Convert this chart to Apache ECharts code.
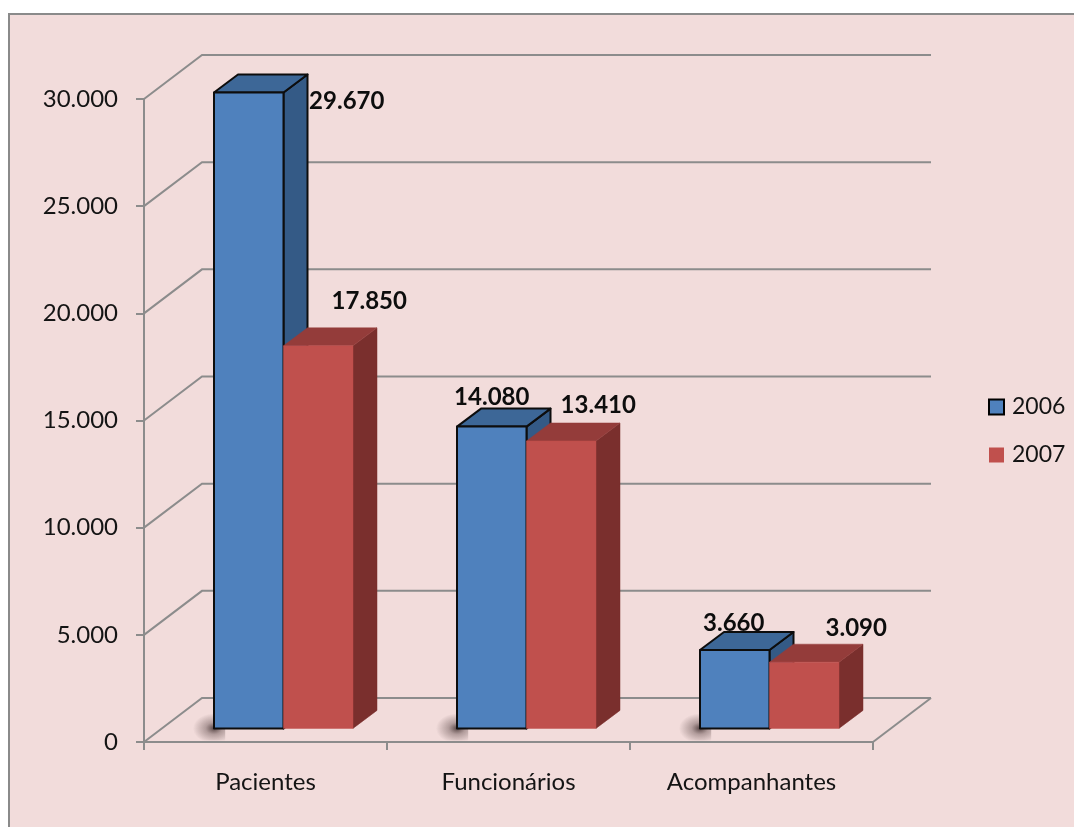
<!DOCTYPE html>
<html>
<head>
<meta charset="utf-8">
<script src="https://cdn.jsdelivr.net/npm/echarts@6/dist/echarts.min.js"></script>
<style>
  html, body { margin: 0; padding: 0; background: #ffffff; }
  #frame {
    position: absolute; left: 8px; top: 13px; right: 0; bottom: 0;
    background: #f2dcdb;
    border-top: 2px solid #8a8a8a; border-left: 2px solid #8a8a8a;
  }
  #chart { position: absolute; left: 0; top: 0; width: 1074px; height: 827px; }
</style>
</head>
<body>
<div id="frame"></div>
<div id="chart"></div>
<script>
// Atendimentos por grupo, 2006 x 2007
const categories = ['Pacientes', 'Funcionários', 'Acompanhantes'];
const years = ['2006', '2007'];
const values2006 = [29670, 14080, 3660];
const values2007 = [17850, 13410, 3090];
const yTicks = [0, 5000, 10000, 15000, 20000, 25000, 30000];

// pseudo-3D geometry (pixels)
const WALL_DX = 58, WALL_DY = -44;     // depth of the back wall
const FRONT_DX = 18, FRONT_DY = -13.6; // bars sit partly into the floor
const BAR_DX = 24, BAR_DY = -18;       // depth of each bar
const BAR_FRAC = 0.286;                // bar width as a share of the category band

// label nudges [dx, dy] from the top-front centre of each bar
const labelShift = [
  [[98, 9], [0, -29], [-1, -27]],
  [[51, -45], [37, -36], [52, -34]]
];

const palette = [
  { front: '#4f81bd', top: '#3d6797', side: '#345a86', stroke: '#0d0d0d' },
  { front: '#c0504d', top: '#943c3a', side: '#7a2f2d', stroke: null }
];

const FONT = 'Lato, "Open Sans", sans-serif';
const fmt = v => String(v).replace(/\B(?=(\d{3})+(?!\d))/g, '.');

function wallItem(params, api) {
  const v = api.value(1);
  const band = api.size([1, 0])[0];
  const l = api.coord([0, v]);
  const r = api.coord([categories.length - 1, v]);
  const xl = l[0] - band / 2, xr = r[0] + band / 2, y = l[1];
  const style = { stroke: '#8c8c8c', lineWidth: 2, fill: null };
  const children = [{
    type: 'polyline',
    shape: { points: [[xl, y], [xl + WALL_DX, y + WALL_DY], [xr + WALL_DX, y + WALL_DY]] },
    style: style
  }];
  if (v === 0) {
    children.push({
      type: 'line',
      shape: { x1: xr, y1: y, x2: xr + WALL_DX, y2: y + WALL_DY },
      style: style
    });
  }
  return { type: 'group', children: children };
}

function barItem(s) {
  const c = palette[s];
  return function (params, api) {
    const ci = api.value(0), v = api.value(1);
    const base = api.coord([ci, 0]);
    const top = api.coord([ci, v]);
    const band = api.size([1, 0])[0];
    const w = band * BAR_FRAC;
    const x0 = base[0] - w + s * w + FRONT_DX;
    const x1 = x0 + w;
    const yb = base[1] + FRONT_DY;
    const yt = top[1] + FRONT_DY;
    const faceStyle = fill => ({
      fill: fill,
      stroke: c.stroke || fill,
      lineWidth: c.stroke ? 2 : 0.5,
      lineJoin: 'round'
    });
    const children = [];
    if (s === 0) {
      // soft floor shadow at the lower-left corner of the bar, stretched sideways
      children.push({
        type: 'rect',
        shape: { x: x0 - 32, y: yb - 18, width: 40, height: 30 },
        scaleX: 1.4,
        originX: x0,
        originY: yb,
        style: {
          fill: new echarts.graphic.RadialGradient(0.8, 0.6, 0.5, [
            { offset: 0, color: 'rgba(35,20,20,0.75)' },
            { offset: 0.4, color: 'rgba(60,40,40,0.35)' },
            { offset: 1, color: 'rgba(60,40,40,0)' }
          ])
        }
      });
    }
    children.push(
      { type: 'polygon',
        shape: { points: [[x1, yb], [x1 + BAR_DX, yb + BAR_DY], [x1 + BAR_DX, yt + BAR_DY], [x1, yt]] },
        style: faceStyle(c.side) },
      { type: 'polygon',
        shape: { points: [[x0, yt], [x1, yt], [x1 + BAR_DX, yt + BAR_DY], [x0 + BAR_DX, yt + BAR_DY]] },
        style: faceStyle(c.top) },
      { type: 'polygon',
        shape: { points: [[x0, yb], [x1, yb], [x1, yt], [x0, yt]] },
        style: faceStyle(c.front) }
    );
    const sh = labelShift[s][ci];
    children.push({
      type: 'text',
      z2: 100,
      style: {
        text: fmt(v),
        x: (x0 + x1) / 2 + sh[0],
        y: yt + sh[1],
        align: 'center',
        verticalAlign: 'middle',
        font: 'bold 24px ' + FONT,
        fill: '#0d0d0d'
      }
    });
    return { type: 'group', children: children };
  };
}

const seriesValues = [values2006, values2007];

const chart = echarts.init(document.getElementById('chart'), null, { renderer: 'canvas' });
chart.setOption({
  backgroundColor: 'transparent',
  animation: false,
  textStyle: { fontFamily: FONT },
  grid: { left: 144, right: 201, top: 99, bottom: 85 },
  legend: {
    orient: 'vertical',
    left: 983,
    top: 389,
    icon: 'rect',
    itemWidth: 15,
    itemHeight: 15,
    itemGap: 22,
    textStyle: { fontSize: 23, color: '#141414', lineHeight: 26, padding: [0, 0, 0, 3], fontFamily: FONT },
    data: [
      { name: years[0], itemStyle: { color: palette[0].front, borderColor: '#000', borderWidth: 2 } },
      { name: years[1], itemStyle: { color: palette[1].front, borderWidth: 0 } }
    ]
  },
  xAxis: {
    type: 'category',
    data: categories,
    boundaryGap: true,
    axisLine: { show: true, lineStyle: { color: '#8c8c8c', width: 2 } },
    axisTick: { show: true, length: 8, lineStyle: { color: '#8c8c8c', width: 2 } },
    axisLabel: { fontSize: 24, color: '#141414', margin: 28, fontFamily: FONT },
    splitLine: { show: false }
  },
  yAxis: {
    type: 'value',
    min: 0,
    max: yTicks[yTicks.length - 1],
    interval: yTicks[1] - yTicks[0],
    axisLine: { show: true, lineStyle: { color: '#8c8c8c', width: 2 } },
    axisTick: { show: true, length: 8, lineStyle: { color: '#8c8c8c', width: 2 } },
    axisLabel: { fontSize: 24, color: '#141414', margin: 26, fontFamily: FONT, formatter: v => fmt(v) },
    splitLine: { show: false }
  },
  series: [
    {
      name: 'walls',
      type: 'custom',
      silent: true,
      z: 1,
      renderItem: wallItem,
      data: yTicks.map(v => [0, v])
    }
  ].concat(years.map((y, s) => ({
    name: y,
    type: 'custom',
    z: 3 + s,
    itemStyle: { color: palette[s].front },
    renderItem: barItem(s),
    data: seriesValues[s].map((v, i) => [i, v])
  })))
});
</script>
</body>
</html>
